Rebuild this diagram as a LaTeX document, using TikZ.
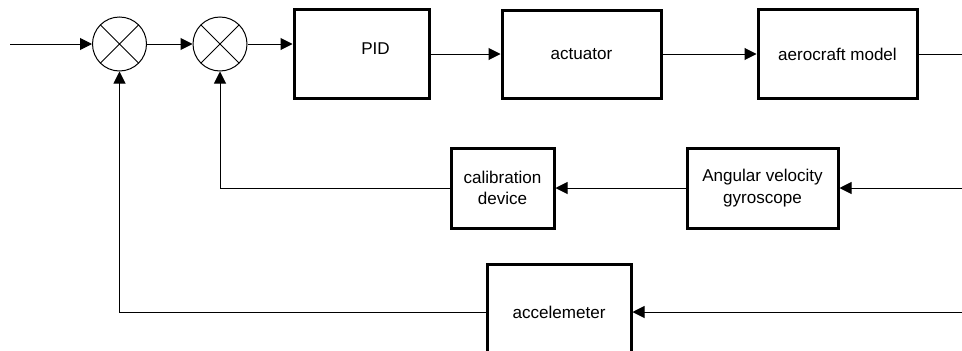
\documentclass[tikz,border=0pt]{standalone}
\usepackage{fontspec}
\setmainfont{Liberation Sans}
\usetikzlibrary{arrows.meta}

\begin{document}
\begin{tikzpicture}[x=0.75pt,y=-0.75pt,>={Triangle[length=9pt,width=9pt]},
line width=0.75pt,font=\fontsize{12.8}{16}\selectfont]

\tikzstyle{block}=[draw,line width=2.25pt,align=center]
\tikzstyle{sum}=[draw,circle,minimum size=40.5pt,inner sep=0pt,
  path picture={\draw (path picture bounding box.north west) -- (path picture bounding box.south east)
                      (path picture bounding box.north east) -- (path picture bounding box.south west);}]

\useasboundingbox (0,0) rectangle (962,350);
\clip (0,0) rectangle (962,350);

\node[sum]   (s1) at (119.5,44) {};
\node[sum]   (s2) at (220,44)   {};
\node[block, minimum width=101.25pt, minimum height=66.75pt,
      label={[shift={(14,-5)}]center:PID}] (pid) at (361.5,54) {};
\node[block, minimum width=119.25pt, minimum height=66pt]    (act)   at (581.5,54) {actuator};
\node[block, minimum width=119.25pt, minimum height=66.75pt] (model) at (837.5,54) {aerocraft model};
\node[block, minimum width=77.25pt,  minimum height=60pt]    (cal)   at (502.5,188) {calibration\\device};
\node[block, minimum width=113.25pt, minimum height=60pt]    (gyro)  at (762.5,188) {Angular velocity\\gyroscope};
\node[block, minimum width=108pt,    minimum height=72pt]    (acc)   at (559,312) {accelemeter};

\coordinate (in)    at (10,44);
\coordinate (out)   at (962,54);
\coordinate (rate)  at (962,188);
\coordinate (accel) at (962,312);

\draw[->] (in) -- (s1);
\draw[->] (s1) -- (s2);
\draw[->] (s2) -- (s2 -| pid.west);
\draw[->] (pid) -- (act);
\draw[->] (act) -- (model);
\draw     (model) -- (out);
\draw[->] (rate) -- (gyro);
\draw[->] (gyro) -- (cal);
\draw[->] (cal) -| (s2);
\draw[->] (accel) -- (acc);
\draw[->] (acc) -| (s1);
\end{tikzpicture}
\end{document}
